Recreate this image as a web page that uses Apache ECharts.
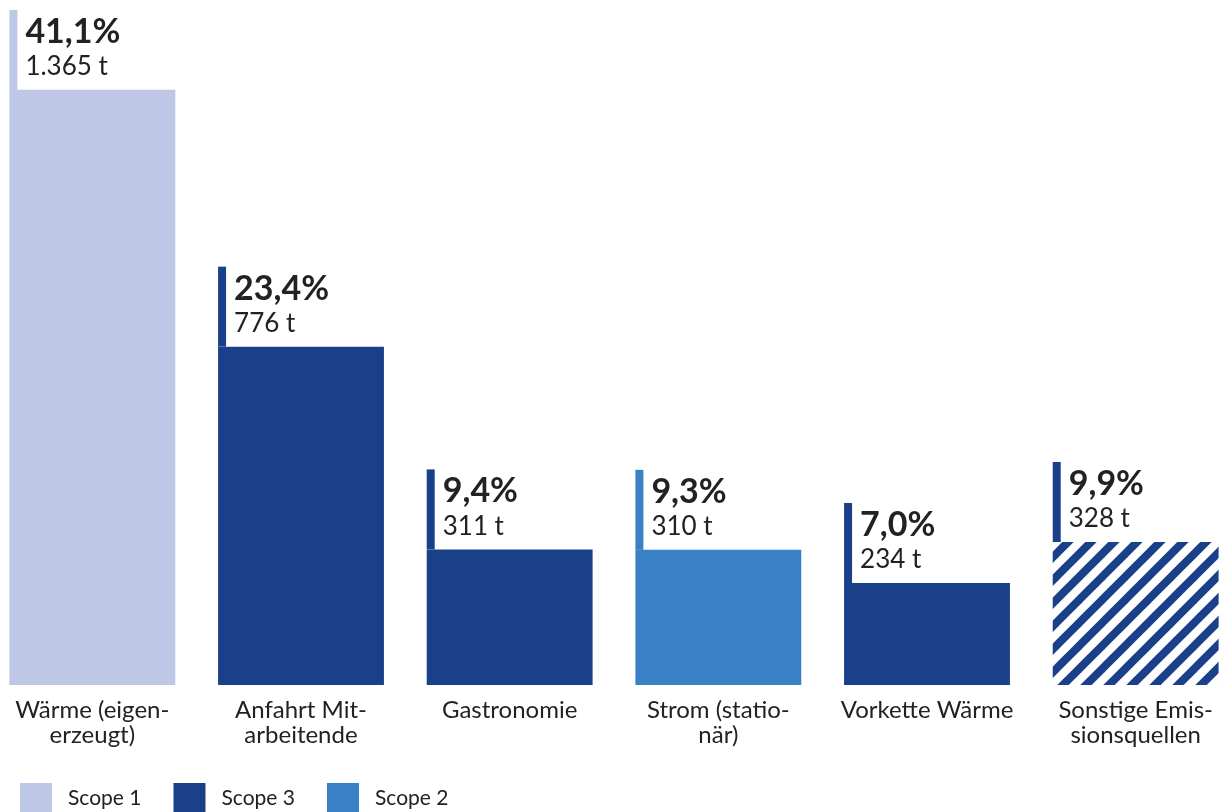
<!DOCTYPE html>
<html>
<head>
<meta charset="utf-8">
<script src="https://cdn.jsdelivr.net/npm/echarts@6/dist/echarts.min.js"></script>
<style>
html,body{margin:0;padding:0;background:#fff;}
#chart{width:1225px;height:812px;}
</style>
</head>
<body>
<div id="chart"></div>
<script>
const categories = ['Wärme (eigen-\nerzeugt)', 'Anfahrt Mit-\narbeitende', 'Gastronomie', 'Strom (statio-\nnär)', 'Vorkette Wärme', 'Sonstige Emis-\nsionsquellen'];
const tonnes = [1365, 776, 311, 310, 234, 328];
const percents = ['41,1%', '23,4%', '9,4%', '9,3%', '7,0%', '9,9%'];
const scopes = ['Scope 1', 'Scope 3', 'Scope 3', 'Scope 2', 'Scope 3', 'Sonstige'];
const legendNames = ['Scope 1', 'Scope 3', 'Scope 2'];

const FONT = 'Lato';
const TEXT = '#222222';
const colors = {
  'Scope 1': '#bfc7e6',
  'Scope 3': '#1b408a',
  'Scope 2': '#3a80c4'
};

// hatch pattern tile
const tile = document.createElement('canvas');
const S = 23;
tile.width = S; tile.height = S;
const tc = tile.getContext('2d');
tc.fillStyle = '#ffffff';
tc.fillRect(0, 0, S, S);
tc.strokeStyle = colors['Scope 3'];
tc.lineWidth = 8;
[0, S, 2 * S].forEach(function (c) {
  tc.beginPath();
  tc.moveTo(-S, c + S);
  tc.lineTo(2 * S, c - 2 * S);
  tc.stroke();
});
const hatch = { image: tile, repeat: 'repeat' };

function fmt(v) {
  return String(v).replace(/\B(?=(\d{3})+(?!\d))/g, '.') + ' t';
}

const seriesKeys = ['Scope 1', 'Scope 3', 'Scope 2', 'Sonstige'];
const BAR_RATIO = 0.795;
const barSeries = seriesKeys.map(function (key) {
  return {
    name: key,
    type: 'bar',
    stack: 'all',
    barWidth: (BAR_RATIO * 100) + '%',
    silent: true,
    itemStyle: { color: key === 'Sonstige' ? hatch : colors[key] },
    data: tonnes.map(function (v, i) { return scopes[i] === key ? v : '-'; })
  };
});

const chart = echarts.init(document.getElementById('chart'), null, { renderer: 'canvas' });
chart.setOption({
  animation: false,
  backgroundColor: '#ffffff',
  grid: { left: -12, right: -15, top: 31, bottom: 127, containLabel: false, outerBoundsMode: 'none' },
  legend: {
    data: legendNames,
    left: 20,
    top: 783,
    padding: 0,
    itemWidth: 32,
    itemHeight: 31,
    itemGap: 32,
    icon: 'rect',
    selectedMode: false,
    textStyle: { fontFamily: FONT, fontSize: 21, color: TEXT, padding: [0, 0, 0, 11] }
  },
  xAxis: {
    type: 'category',
    data: categories,
    axisLine: { show: false },
    axisTick: { show: false },
    axisLabel: {
      interval: 0,
      margin: 13,
      fontFamily: FONT,
      fontSize: 24,
      lineHeight: 25,
      color: TEXT,
      align: 'center'
    }
  },
  yAxis: {
    type: 'value',
    min: 0,
    max: 1500,
    show: false,
    splitLine: { show: false }
  },
  series: barSeries.concat([{
    name: 'labels',
    type: 'custom',
    silent: true,
    z: 5,
    data: tonnes.map(function (v, i) { return [i, v]; }),
    renderItem: function (params, api) {
      const i = params.dataIndex;
      const p = api.coord([api.value(0), api.value(1)]);
      const bw = api.size([1, 0])[0] * BAR_RATIO;
      const left = p[0] - bw / 2;
      const y0 = p[1];
      const sc = scopes[i];
      const stripColor = sc === 'Sonstige' ? colors['Scope 3'] : colors[sc];
      return {
        type: 'group',
        children: [
          { type: 'rect', shape: { x: left, y: y0 - 80, width: 8, height: 80 }, style: { fill: stripColor } },
          { type: 'text', style: { text: percents[i], x: left + 16, y: y0 - 58, verticalAlign: 'middle', align: 'left', font: 'bold 34px ' + FONT, fill: TEXT } },
          { type: 'text', style: { text: fmt(tonnes[i]), x: left + 16, y: y0 - 23, verticalAlign: 'middle', align: 'left', font: '26px ' + FONT, fill: TEXT } }
        ]
      };
    }
  }])
});
</script>
</body>
</html>
